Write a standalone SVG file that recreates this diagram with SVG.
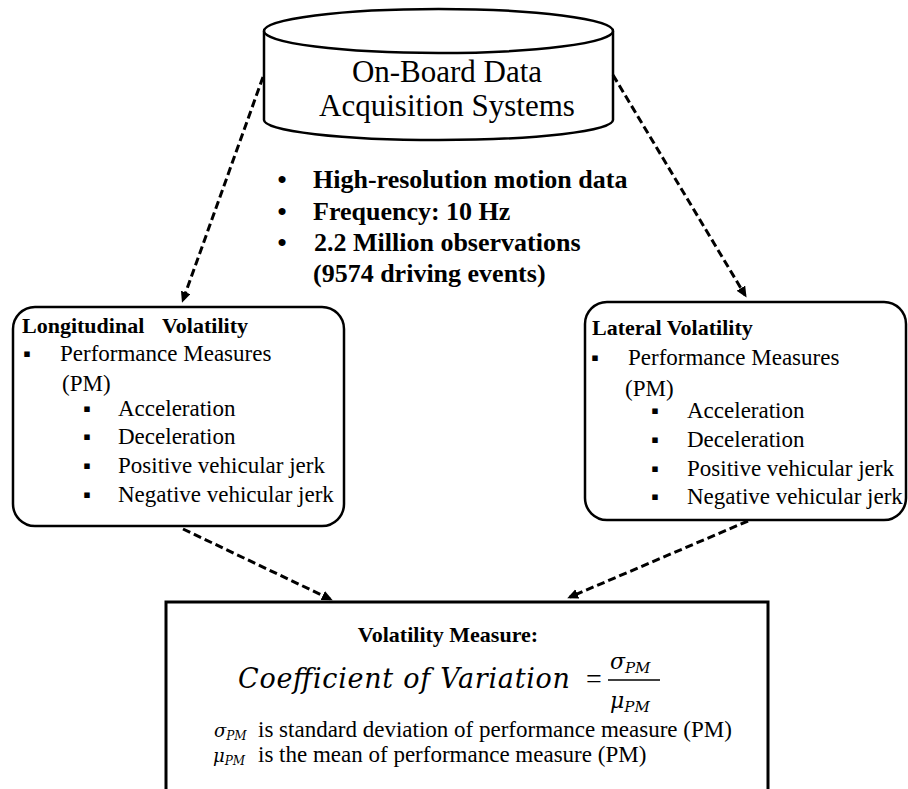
<svg xmlns="http://www.w3.org/2000/svg" width="908" height="789" viewBox="0 0 908 789">
<style>
  .serif { font-family: "Liberation Serif", "Times New Roman", serif; fill: #000; }
  .reg { font-size: 23px; }
  .title { font-size: 22px; font-weight: bold; }
  .big { font-size: 31px; }
  .bul { font-size: 26px; font-weight: bold; }
  .sq { font-family: "DejaVu Sans", sans-serif; font-size: 11px; fill: #000; }
  .math { font-family: "DejaVu Serif", "Liberation Serif", serif; font-style: italic; fill: #000; }
  .shape { fill: #fff; stroke: #000; stroke-width: 2.5; }
  .conn { fill: none; stroke: #000; stroke-width: 3; stroke-dasharray: 8 4; }
</style>
<defs>
  <marker id="arrow" markerUnits="userSpaceOnUse" markerWidth="12" markerHeight="12" refX="8" refY="5" orient="auto">
    <path d="M0,0 L11,5 L0,10 z" fill="#000"/>
  </marker>
</defs>
<rect width="908" height="789" fill="#fff"/>

<g id="node-source">
  <path class="shape" d="M264,31 V120 A174.5,20 0 0 0 613,120 V31"/>
  <ellipse class="shape" cx="438.5" cy="31" rx="174.5" ry="22"/>
  <text class="serif big" x="447" y="82" text-anchor="middle">On-Board Data</text>
  <text class="serif big" x="447" y="116" text-anchor="middle">Acquisition Systems</text>
</g>

<g id="node-data">
  <text class="serif bul" x="282" y="188" text-anchor="middle">•</text>
  <text class="serif bul" x="313" y="188">High-resolution motion data</text>
  <text class="serif bul" x="282" y="220" text-anchor="middle">•</text>
  <text class="serif bul" x="313" y="220">Frequency: 10 Hz</text>
  <text class="serif bul" x="282" y="251" text-anchor="middle">•</text>
  <text class="serif bul" x="314" y="251">2.2 Million observations</text>
  <text class="serif bul" x="313" y="282">(9574 driving events)</text>
</g>

<g id="node-longitudinal">
  <rect class="shape" x="13" y="307" width="331" height="219" rx="22" ry="22"/>
  <text class="serif title" x="22" y="333">Longitudinal<tspan x="162">Volatility</tspan></text>
  <text class="sq" x="27" y="357" text-anchor="middle">▪</text>
  <text class="serif reg" x="60" y="361">Performance Measures</text>
  <text class="serif reg" x="62" y="391">(PM)</text>
  <text class="sq" x="87" y="412" text-anchor="middle">▪</text>
  <text class="serif reg" x="118" y="416">Acceleration</text>
  <text class="sq" x="87" y="440" text-anchor="middle">▪</text>
  <text class="serif reg" x="118" y="444">Deceleration</text>
  <text class="sq" x="87" y="469" text-anchor="middle">▪</text>
  <text class="serif reg" x="118" y="473">Positive vehicular jerk</text>
  <text class="sq" x="87" y="498" text-anchor="middle">▪</text>
  <text class="serif reg" x="118" y="502">Negative vehicular jerk</text>
</g>

<g id="node-lateral">
  <rect class="shape" x="585" y="302" width="321" height="218" rx="22" ry="22"/>
  <text class="serif title" x="592" y="335">Lateral Volatility</text>
  <text class="sq" x="595" y="361" text-anchor="middle">▪</text>
  <text class="serif reg" x="628" y="365">Performance Measures</text>
  <text class="serif reg" x="625" y="396">(PM)</text>
  <text class="sq" x="655" y="414" text-anchor="middle">▪</text>
  <text class="serif reg" x="687" y="418">Acceleration</text>
  <text class="sq" x="655" y="443" text-anchor="middle">▪</text>
  <text class="serif reg" x="687" y="447">Deceleration</text>
  <text class="sq" x="655" y="472" text-anchor="middle">▪</text>
  <text class="serif reg" x="687" y="476">Positive vehicular jerk</text>
  <text class="sq" x="655" y="500" text-anchor="middle">▪</text>
  <text class="serif reg" x="687" y="504">Negative vehicular jerk</text>
</g>

<g id="node-measure">
  <path d="M166,789 V602 H768 V789" fill="#fff" stroke="#000" stroke-width="3"/>
  <text class="serif title" x="448" y="642" text-anchor="middle">Volatility Measure:</text>
  <text class="math" x="238" y="688" font-size="27" textLength="332" lengthAdjust="spacing">Coefficient of Variation</text>
  <text class="serif" x="586" y="688" font-size="28">=</text>
  <text class="math" x="610" y="669" font-size="22">σ<tspan font-size="15" dy="4">PM</tspan></text>
  <line x1="608" y1="680" x2="660" y2="680" stroke="#000" stroke-width="1.5"/>
  <text class="math" x="610" y="708" font-size="22">μ<tspan font-size="15" dy="4">PM</tspan></text>
  <text class="math" x="214" y="737" font-size="18">σ<tspan font-size="12" dy="3">PM</tspan></text>
  <text class="serif reg" x="258" y="737">is standard deviation of performance measure (PM)</text>
  <text class="math" x="213" y="762" font-size="18">μ<tspan font-size="12" dy="3">PM</tspan></text>
  <text class="serif reg" x="258" y="762">is the mean of performance measure (PM)</text>
</g>

<g id="connectors">
  <line class="conn" x1="263" y1="77" x2="183" y2="300" marker-end="url(#arrow)"/>
  <line class="conn" x1="613" y1="75" x2="745" y2="295" marker-end="url(#arrow)"/>
  <line class="conn" x1="183" y1="529" x2="330" y2="599" marker-end="url(#arrow)"/>
  <line class="conn" x1="748" y1="521" x2="570" y2="597" marker-end="url(#arrow)"/>
</g>
</svg>
